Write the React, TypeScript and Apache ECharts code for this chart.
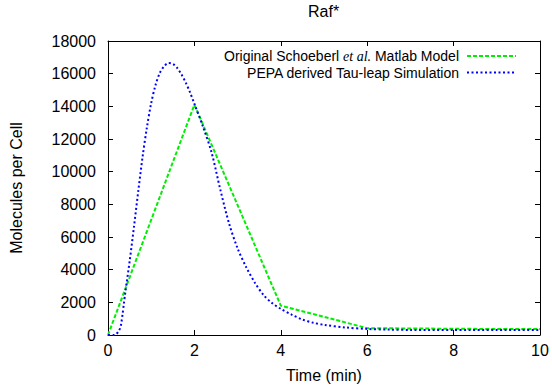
import React, { useEffect, useRef } from "react";
import * as echarts from "echarts";

const titleText = "Raf*";
const xName = "Time (min)";
const yName = "Molecules per Cell";
const seriesNames = ["Original Schoeberl et al. Matlab Model", "PEPA derived Tau-leap Simulation"];

const greenT = [0, 2, 4, 6, 8, 10];
const greenV = [0, 14100, 1800, 420, 380, 360];

const blueT = [0, 0.15, 0.25, 0.3, 0.4, 0.5, 0.6, 0.7, 0.8, 0.9, 1.0, 1.1, 1.2, 1.3, 1.4, 1.5, 1.6, 1.7, 1.8, 1.9, 2.0, 2.2, 2.4, 2.6, 2.8, 3.0, 3.2, 3.4, 3.6, 3.8, 4.0, 4.25, 4.5, 4.75, 5.0, 5.5, 6.0, 6.5, 7, 8, 9, 10];
const blueV = [0, 0, 250, 600, 2600, 4500, 6600, 8800, 10900, 12700, 14200, 15300, 16050, 16450, 16650, 16600, 16350, 15950, 15450, 14850, 14150, 12750, 11150, 8900, 6850, 5300, 4150, 3200, 2450, 1950, 1600, 1250, 950, 750, 620, 460, 370, 330, 310, 300, 300, 300];

const FONT = "'Liberation Sans', Arial, sans-serif";

export default function App() {
  const ref = useRef<HTMLDivElement>(null);
  useEffect(() => {
    if (!ref.current) return;
    const chart = echarts.init(ref.current, null, { renderer: "svg" });
    const axisCommon = {
      type: "value" as const,
      axisLine: { show: true, onZero: false, lineStyle: { color: "#000", width: 1 } },
      axisTick: { show: true, inside: true, length: 5, lineStyle: { color: "#000" } },
      splitLine: { show: false },
    };
    chart.setOption({
      animation: false,
      backgroundColor: "#fff",
      textStyle: { fontFamily: FONT },
      title: {
        text: titleText,
        left: 308,
        top: 3,
        padding: 0,
        textStyle: { fontFamily: FONT, fontSize: 16, fontWeight: "normal", color: "#000" },
      },
      legend: [0, 1].map((i) => ({
        data: [seriesNames[i]],
        right: 35,
        top: i === 0 ? 49 : 65.5,
        padding: 0,
        align: "right",
        itemWidth: 49,
        itemHeight: 14,
        itemStyle: { opacity: 0 },
        formatter: (n: string) =>
          n.indexOf("et al.") >= 0 ? n.replace("et al.", "{i|et al.}") + "{g|}" : n + "{g|}",
        textStyle: {
          fontFamily: FONT,
          fontSize: 14,
          color: "#000",
          rich: {
            i: { fontFamily: "'Liberation Serif', serif", fontStyle: "italic", fontSize: 14, color: "#000" },
            g: { width: 3 },
          },
        },
      })),
      grid: { left: 108, right: 12, top: 41, bottom: 52.5, show: false },
      xAxis: [
        {
          ...axisCommon,
          min: 0,
          max: 10,
          interval: 2,
          position: "bottom",
          name: xName,
          nameLocation: "middle",
          nameGap: 32,
          nameTextStyle: { fontFamily: FONT, fontSize: 16, color: "#000" },
          axisLabel: { fontFamily: FONT, fontSize: 16, color: "#000", margin: 7 },
        },
        {
          ...axisCommon,
          min: 0,
          max: 10,
          interval: 2,
          position: "top",
          axisLabel: { show: false },
        },
      ],
      yAxis: [
        {
          ...axisCommon,
          min: 0,
          max: 18000,
          interval: 2000,
          position: "left",
          name: yName,
          nameLocation: "middle",
          nameGap: 84,
          nameTextStyle: { fontFamily: FONT, fontSize: 16, color: "#000" },
          axisLabel: {
            fontFamily: FONT,
            fontSize: 16,
            color: "#000",
            margin: 12,
            formatter: (v: number) => String(v),
          },
        },
        {
          ...axisCommon,
          min: 0,
          max: 18000,
          interval: 2000,
          position: "right",
          axisLabel: { show: false },
        },
      ],
      series: [
        {
          name: seriesNames[0],
          type: "line",
          symbol: "none",
          data: greenT.map((t, i) => [t, greenV[i]]),
          lineStyle: { color: "#00ee00", width: 2, type: [4, 2] },
          itemStyle: { color: "#00ee00" },
        },
        {
          name: seriesNames[1],
          type: "line",
          symbol: "none",
          smooth: 0.3,
          data: blueT.map((t, i) => [t, blueV[i]]),
          lineStyle: { color: "#0000ff", width: 2, type: [2, 2.5] },
          itemStyle: { color: "#0000ff" },
        },
      ],
    });
    return () => chart.dispose();
  }, []);
  return <div ref={ref} style={{ width: 552, height: 388, position: "absolute", left: 0, top: 0 }} />;
}
